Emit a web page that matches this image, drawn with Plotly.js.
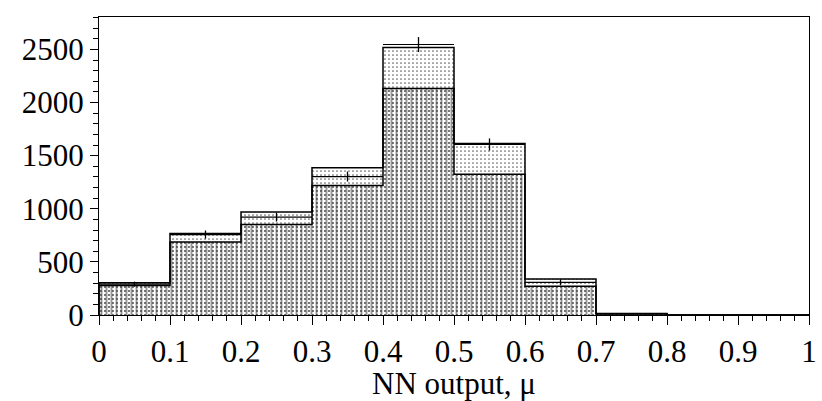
<!DOCTYPE html>
<html>
<head>
<meta charset="utf-8">
<script src="https://cdn.plot.ly/plotly-3.0.1.min.js"></script>
<style>html,body{margin:0;padding:0;background:#fff;}</style>
</head>
<body>
<div id="chart" style="width:822px;height:401px;"></div>
<script>
// Bin centres of the NN output histogram (bin width 0.1)
const binCenters = [0.05, 0.15, 0.25, 0.35, 0.45, 0.55, 0.65, 0.75, 0.85, 0.95];
const binWidth = [0.1, 0.1, 0.1, 0.1, 0.1, 0.1, 0.1, 0.1, 0.1, 0.1];
// Background (cross-hatched) component
const background = [278, 688, 853, 1218, 2133, 1325, 270, 10, 0, 0];
// Signal (dotted) component stacked on top
const signal = [26, 78, 116, 168, 385, 290, 70, 5, 0, 0];
// Data points and their errors
const dataValues = [290, 757, 922, 1303, 2546, 1605, 308, 12, 0, 0];
const dataErrors = [24, 38, 42, 47, 70, 57, 28, 4, 0, 0];
const halfWidth = [0.05, 0.05, 0.05, 0.05, 0.05, 0.05, 0.05, 0.05, 0.05, 0.05];
const xTickVals = [0, 0.1, 0.2, 0.3, 0.4, 0.5, 0.6, 0.7, 0.8, 0.9, 1];
const xTickText = ['0', '0.1', '0.2', '0.3', '0.4', '0.5', '0.6', '0.7', '0.8', '0.9', '1'];
const yTickVals = [0, 500, 1000, 1500, 2000, 2500];

const FONT = 'Liberation Serif, Times New Roman, serif';
const FS = 31;

const total = background.map((b, i) => b + signal[i]);

// step outline (histogram envelope) built from bin centres/widths
function stepLine(vals) {
  const xs = [], ys = [];
  xs.push(binCenters[0] - binWidth[0] / 2); ys.push(0);
  binCenters.forEach((c, i) => {
    xs.push(c - binWidth[i] / 2); ys.push(vals[i]);
    xs.push(c + binWidth[i] / 2); ys.push(vals[i]);
  });
  const last = binCenters.length - 1;
  xs.push(binCenters[last] + binWidth[last] / 2); ys.push(0);
  return {xs, ys};
}
const bgStep = stepLine(background);
const totStep = stepLine(total);

const traces = [
  {
    type: 'bar', x: binCenters, y: background, width: binWidth,
    marker: {
      color: 'white', line: {width: 0},
      pattern: {shape: '|', fgcolor: '#959595', bgcolor: 'white', size: 5, solidity: 0.38}
    },
    hoverinfo: 'skip'
  },
  {
    type: 'bar', x: binCenters, y: background, width: binWidth,
    marker: {
      color: 'rgba(0,0,0,0)', line: {width: 0},
      pattern: {shape: '.', fgcolor: '#444', bgcolor: 'rgba(0,0,0,0)', size: 4, solidity: 0.18}
    },
    hoverinfo: 'skip'
  },
  {
    type: 'bar', x: binCenters, y: signal, base: background, width: binWidth,
    marker: {
      color: 'white', line: {width: 0},
      pattern: {shape: '.', fgcolor: '#666', bgcolor: 'white', size: 4, solidity: 0.15}
    },
    hoverinfo: 'skip'
  },
  {
    type: 'scatter', mode: 'lines', x: bgStep.xs, y: bgStep.ys,
    line: {color: '#000', width: 1.5}, hoverinfo: 'skip'
  },
  {
    type: 'scatter', mode: 'lines', x: totStep.xs, y: totStep.ys,
    line: {color: '#000', width: 1.5}, hoverinfo: 'skip'
  },
  {
    type: 'scatter', mode: 'markers', x: binCenters, y: dataValues,
    marker: {size: 1, color: '#000'},
    error_x: {type: 'data', array: halfWidth, visible: true, width: 0, thickness: 1.2, color: '#000'},
    error_y: {type: 'data', array: dataErrors, visible: true, width: 0, thickness: 1.3, color: '#000'},
    hoverinfo: 'skip'
  }
];

const layout = {
  width: 822, height: 401,
  margin: {l: 99, r: 13, t: 17, b: 86},
  paper_bgcolor: 'white', plot_bgcolor: 'white',
  barmode: 'overlay', bargap: 0,
  showlegend: false,
  font: {family: FONT, size: FS, color: '#000'},
  xaxis: {
    range: [0, 1],
    tickvals: xTickVals, ticktext: xTickText,
    ticks: 'outside', ticklen: 9, tickwidth: 1, tickcolor: '#000',
    minor: {dtick: 0.02, ticks: 'outside', ticklen: 5, tickcolor: '#000', showgrid: false},
    showline: true, linecolor: '#000', linewidth: 1, mirror: true,
    showgrid: false, zeroline: false,
    tickfont: {family: FONT, size: FS},
    title: {text: 'NN output, μ', font: {family: FONT, size: FS}, standoff: 6}
  },
  yaxis: {
    range: [0, 2805],
    tickvals: yTickVals,
    ticks: 'outside', ticklen: 8, tickwidth: 1, tickcolor: '#000',
    minor: {dtick: 100, ticks: 'outside', ticklen: 5, tickcolor: '#000', showgrid: false},
    showline: true, linecolor: '#000', linewidth: 1, mirror: true,
    showgrid: false, zeroline: false,
    tickfont: {family: FONT, size: FS}
  }
};

Plotly.newPlot('chart', traces, layout, {displayModeBar: false, staticPlot: true});
</script>
</body>
</html>
